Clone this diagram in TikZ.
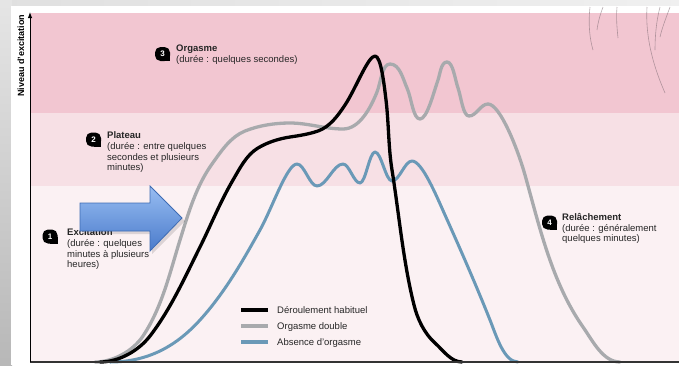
\documentclass[tikz,border=0pt]{standalone}
\usepackage{fontspec}
\setmainfont{Liberation Sans}
\usetikzlibrary{arrows.meta}
\definecolor{bandA}{HTML}{F2C6D1}
\definecolor{bandB}{HTML}{F7E0E5}
\definecolor{bandC}{HTML}{FBF1F3}
\definecolor{curvegray}{HTML}{A8AAAD}
\definecolor{curveblue}{HTML}{6A99B7}
\definecolor{axisgray}{HTML}{333333}
\definecolor{arrowtop}{HTML}{98BDF2}
\definecolor{arrowbot}{HTML}{4A7BCB}
\definecolor{arrowline}{HTML}{3E6CB4}
\definecolor{hair}{HTML}{7A6870}
\newcommand\numbadge[4]{%
  \fill[black,rounded corners=5.5pt] (#1-7.5,#2-7) rectangle (#1+7.5,#2+7);
  \fill[black] (#1,#2) rectangle (#1+7.5,#2+7);
  \node[badgetext] (#3) at (#1,#2) {#4};}
\begin{document}
\begin{tikzpicture}[x=1pt,y=-1pt,
  badgetext/.style={text=white,font=\fontsize{8}{8}\selectfont\bfseries,inner sep=0pt},
  blocktext/.style={anchor=north west,inner sep=0pt,align=left,text=black!85,font=\fontsize{9.5}{10.8}\selectfont},
  legtext/.style={anchor=base west,inner sep=0pt,text=black!85,font=\fontsize{9.5}{11}\selectfont},
  curve/.style={line width=3.3pt,line cap=round,line join=round},
  legline/.style={line width=4pt}]
\useasboundingbox (0,0) rectangle (679,365);
% background photo (blurred)
\fill[black!17] (0,0) rectangle (679,365);
\shade[top color=black!10,bottom color=black!28] (0,0) rectangle (12,365);
\shade[left color=black!12,right color=black!6] (12,0) rectangle (679,6);
\fill[white] (11,6) rectangle (679,365);
% bands
\fill[bandA] (31,13) rectangle (679,113);
\fill[bandB] (31,113) rectangle (679,186);
\fill[bandC] (31,186) rectangle (679,362);
% hair strokes
\begin{scope}[draw=hair,line width=0.6pt,opacity=0.55]
\draw (590,7) .. controls (588,25) and (590,40) .. (593,50);
\draw (603,7) .. controls (600,15) and (598,22) .. (597,30);
\draw (617,7) .. controls (616,18) and (617,28) .. (618,38);
\draw (647,7) .. controls (645,40) and (655,70) .. (665,93);
\draw (660,7) .. controls (656,22) and (655,38) .. (655,50);
\draw (670,7) .. controls (666,18) and (662,28) .. (660,37);
\end{scope}
% curves
\draw[curve,curveblue,line width=3pt] (110,362)
  .. controls (150,362) and (177.8,344.4) .. (200,320)
  .. controls (224.2,293.4) and (242.5,261.5) .. (260,230)
  .. controls (272.2,208.1) and (287,164) .. (297,164)
  .. controls (304.3,164) and (309.7,186) .. (317,186)
  .. controls (326.5,186) and (333.5,164) .. (343,164)
  .. controls (349.2,164) and (353.8,183) .. (360,183)
  .. controls (365.5,183) and (369.5,152) .. (375,152)
  .. controls (381.2,152) and (385.8,181) .. (392,181)
  .. controls (399.3,181) and (404.7,161) .. (412,161)
  .. controls (422,161) and (436.4,195.8) .. (445,215)
  .. controls (460.6,249.7) and (475.9,284.7) .. (490,320)
  .. controls (496.3,335.8) and (504,362) .. (518,362);
\draw[curve,curvegray] (95,362)
  .. controls (113.2,362) and (132.9,351.1) .. (143,336)
  .. controls (162,307.5) and (169.8,272.8) .. (180,240)
  .. controls (188.2,213.7) and (196,186.4) .. (212,164)
  .. controls (221.1,151.3) and (230.5,136.8) .. (245,131)
  .. controls (259.1,125.4) and (274.8,123) .. (290,123)
  .. controls (307.8,123) and (325.2,129) .. (343,129)
  .. controls (359.7,129) and (370.8,107.5) .. (377,92)
  .. controls (380.8,82.4) and (382,64) .. (390,64)
  .. controls (399.8,64) and (403,79.1) .. (407,88)
  .. controls (411.6,98.2) and (413,119) .. (420,119)
  .. controls (427,119) and (433.3,93.5) .. (438,80)
  .. controls (440.2,73.7) and (441,62) .. (447,62)
  .. controls (453,62) and (454.9,79.1) .. (458,88)
  .. controls (461.2,97.2) and (463,116) .. (469,116)
  .. controls (476.5,116) and (480.5,104) .. (488,104)
  .. controls (500,104) and (517.8,149.3) .. (525,175)
  .. controls (539.6,227) and (552,282.8) .. (583,327)
  .. controls (592.7,340.9) and (603,362) .. (620,362);
\draw[curve,black] (100,362)
  .. controls (118.8,362) and (138.5,350.9) .. (150,336)
  .. controls (170.7,309.1) and (184.8,277.4) .. (200,247)
  .. controls (211.1,224.7) and (220.4,201.5) .. (233,180)
  .. controls (239.8,168.4) and (246.4,154.9) .. (258,148)
  .. controls (267.7,142.2) and (278.8,138.7) .. (290,137)
  .. controls (299.4,135.6) and (309,134.1) .. (318,131)
  .. controls (329.8,126.9) and (338.1,115.4) .. (345,105)
  .. controls (355.5,89.2) and (368,56) .. (375,56)
  .. controls (381,56) and (384.2,85.1) .. (386,100)
  .. controls (388.8,123.2) and (388.3,146.9) .. (392,170)
  .. controls (399.1,214.4) and (403.1,261.4) .. (414,305)
  .. controls (417.5,319.1) and (424.2,333.3) .. (435,343)
  .. controls (443.2,350.4) and (451,362) .. (462,362);
% axes
\draw[axisgray,line width=1.2pt] (30,362) -- (679,362);
\draw[black,line width=1pt,-{Latex[length=6pt,width=4.5pt]}] (30,362) -- (30,12);
\node[rotate=90,anchor=base,inner sep=0pt,font=\fontsize{9}{9}\selectfont\bfseries] (ylab) at (24,55.7) {Niveau d'excitation};
% phase labels
\numbadge{162.5}{54}{b3}{3}
\node[blocktext] (t3) at (176,45) {\textbf{Orgasme}\\(durée : quelques secondes)};
\numbadge{93.5}{139.5}{b2}{2}
\node[blocktext] (t2) at (107,131.5) {\textbf{Plateau}\\(durée : entre quelques\\secondes et plusieurs\\minutes)};
\numbadge{50}{236.5}{b1}{1}
\node[blocktext] (t1) at (67,228.5) {\textbf{Excitation}\\(durée : quelques\\minutes à plusieurs\\heures)};
\numbadge{549.5}{222.5}{b4}{4}
\node[blocktext] (t4) at (562,213) {\textbf{Relâchement}\\(durée : généralement\\quelques minutes)};
% legend
\coordinate (l1a) at (241,310); \coordinate (l1b) at (268,310);
\coordinate (l2a) at (241,326); \coordinate (l2b) at (268,326);
\coordinate (l3a) at (241,342); \coordinate (l3b) at (268,342);
\draw[legline,black] (l1a) -- (l1b);
\draw[legline,curvegray] (l2a) -- (l2b);
\draw[legline,curveblue] (l3a) -- (l3b);
\node[legtext] (lt1) at (277,313.5) {Déroulement habituel};
\node[legtext] (lt2) at (277,329.5) {Orgasme double};
\node[legtext] (lt3) at (277,345.5) {Absence d'orgasme};
% blue block arrow
\fill[black,opacity=0.12] (82,206) -- (152,206) -- (152,189) -- (185,221) -- (152,254) -- (152,234) -- (82,234) -- cycle;
\shade[top color=arrowtop,bottom color=arrowbot,draw=arrowline,line width=0.8pt,line join=miter]
  (80,203) -- (150,203) -- (150,186) -- (182,218) -- (150,251) -- (150,231) -- (80,231) -- cycle;
\end{tikzpicture}
\end{document}
